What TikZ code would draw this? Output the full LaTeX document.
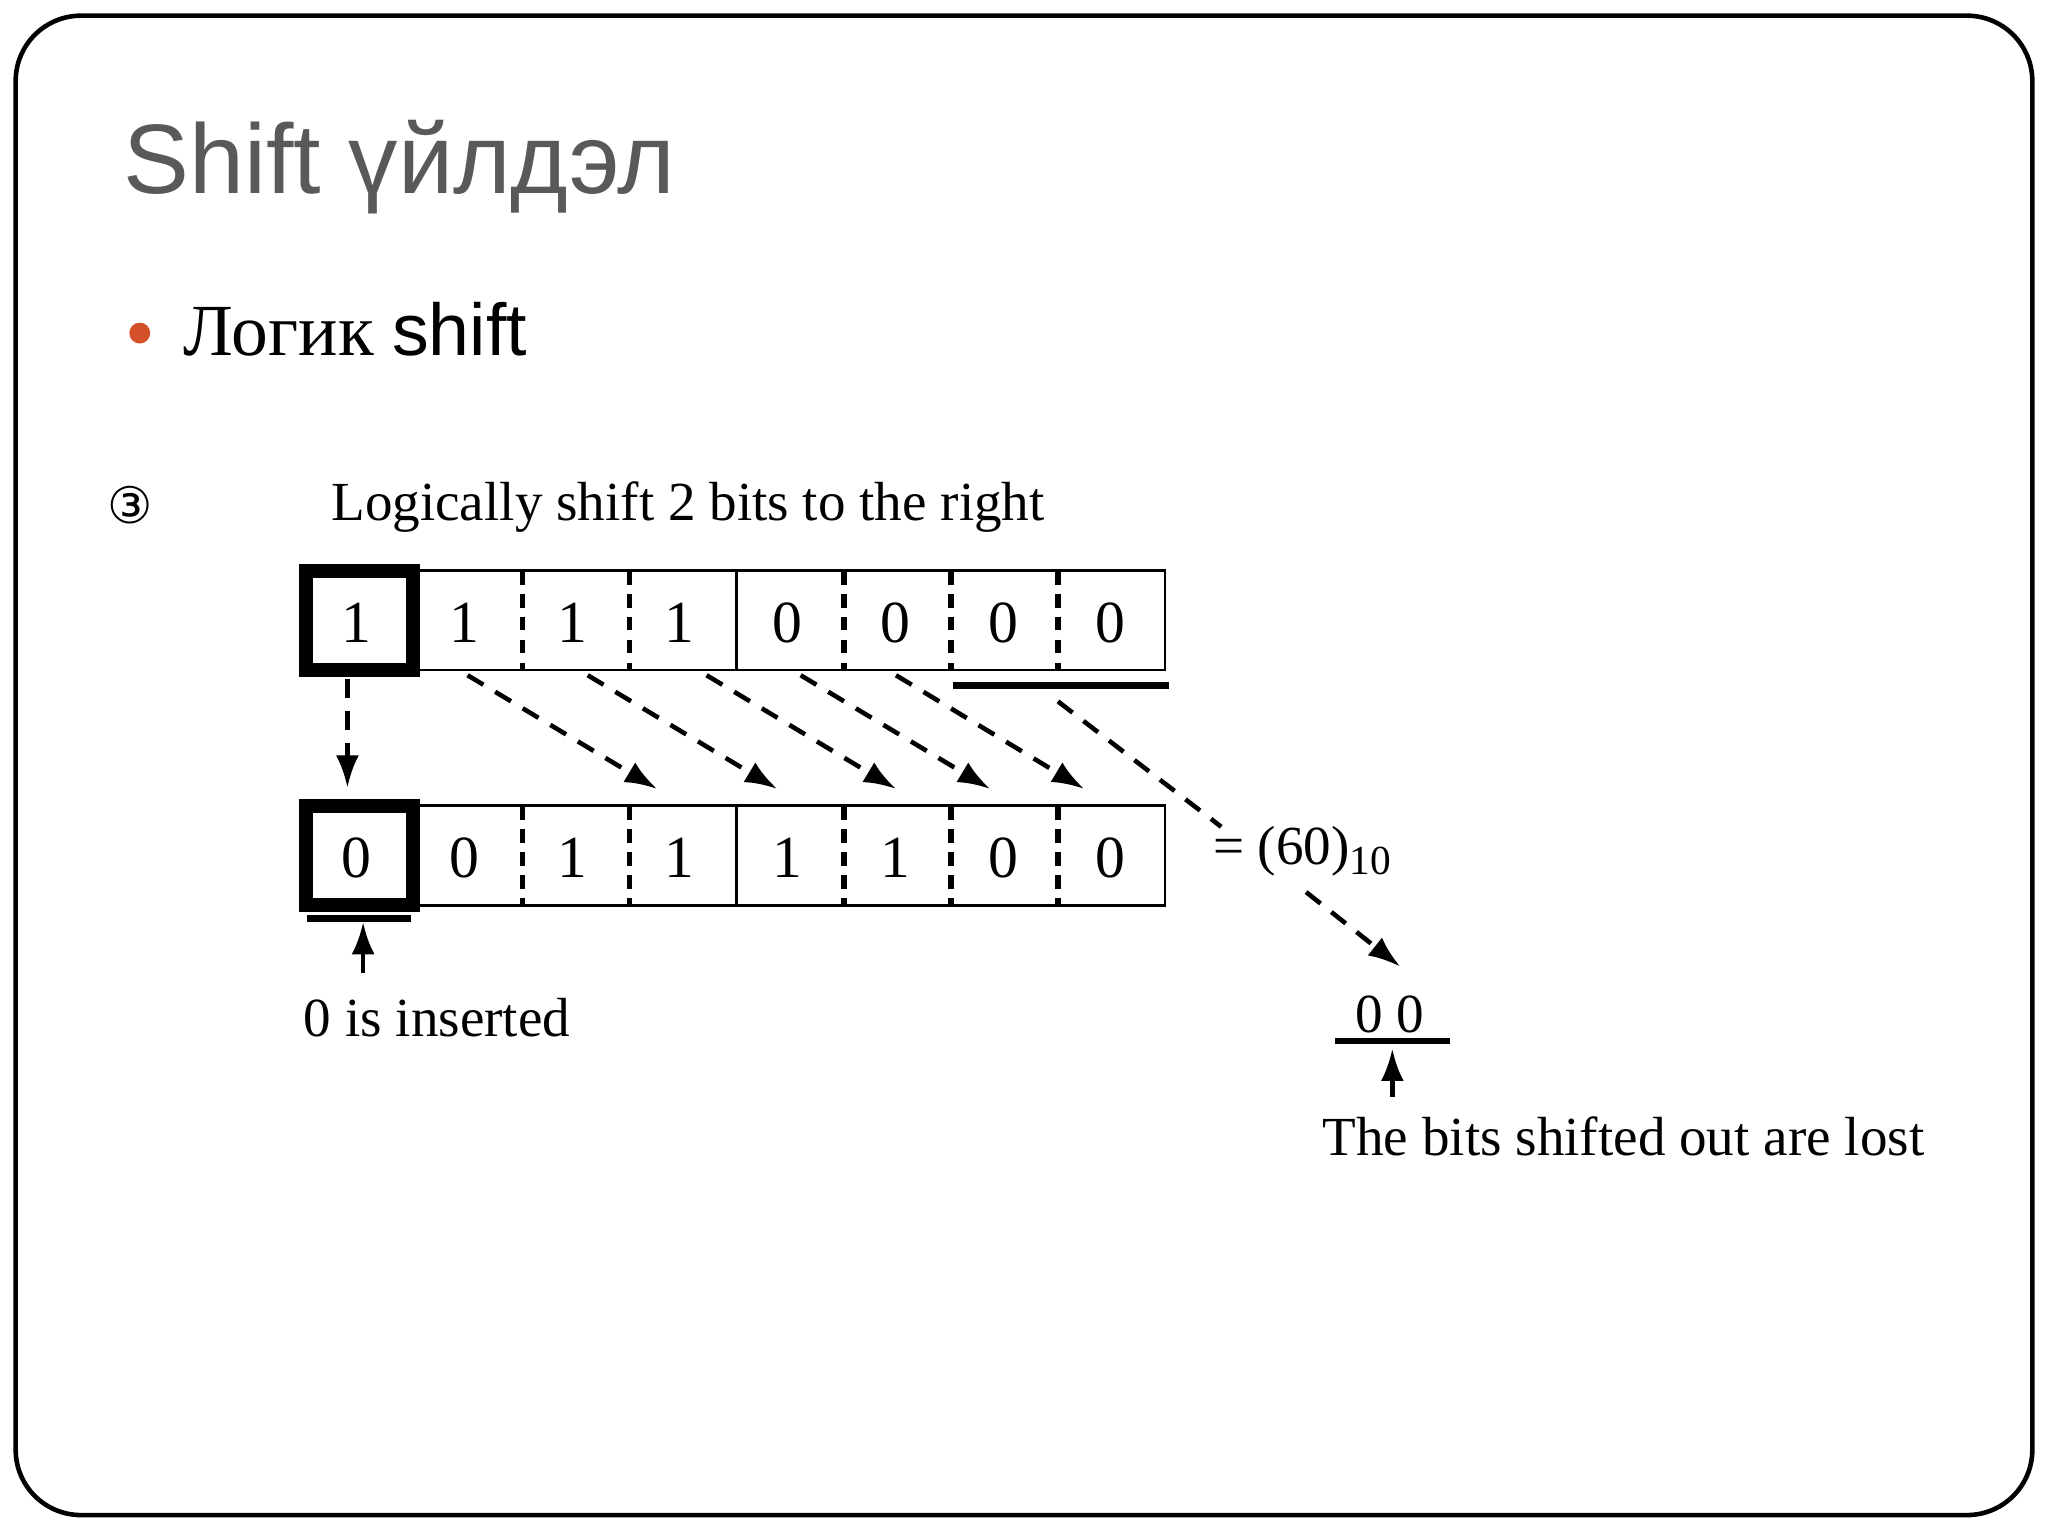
\documentclass[tikz,border=0pt]{standalone}
\usepackage{fontspec}
\setmainfont{Liberation Serif}
\newfontfamily\arialf{Liberation Sans}
\newfontfamily\djv{DejaVu Sans}
\usetikzlibrary{arrows.meta}
\definecolor{bul}{HTML}{D4502A}
\begin{document}
\begin{tikzpicture}[x=0.01cm,y=-0.01cm,
  cell/.style={draw,line width=0.6pt},
  dar/.style={line width=1pt,dash pattern=on 4pt off 3pt,-{Latex[length=7pt,width=5pt]}},
  dln/.style={line width=1pt,dash pattern=on 4pt off 3pt},
  sar/.style={line width=1pt,-{Latex[length=7pt,width=5pt]}},
  bit/.style={font=\fontsize{13}{15}\selectfont},
  lbl/.style={font=\fontsize{12}{14}\selectfont,inner sep=0pt}]
\useasboundingbox (0,0) rectangle (1568,1176);
\draw[line width=1pt,rounded corners=0.5cm] (12,12) rectangle (1556,1160);
\node[anchor=base west,inner sep=0pt,text=black!65,font=\arialf\fontsize{21.5}{24}\selectfont] (title) at (94,148) {Shift үйлдэл};
\fill[bul] (107,255) circle (8);
\node[anchor=base west,inner sep=0pt,font=\fontsize{16}{18}\selectfont] (sub) at (140,272) {Логик {\arialf shift}};
\node[inner sep=0pt,font=\djv\fontsize{11}{12}\selectfont] (num) at (100,387) {③};
\node[lbl,anchor=west] (cap) at (253,388) {Logically shift 2 bits to the right};
\foreach \r/\y/\bits in {t/437/{1,1,1,1,0,0,0,0}, b/617/{0,0,1,1,1,1,0,0}}{
  \draw[cell] (232,\y) rectangle (892,\y+76);
  \foreach \v [count=\i] in \bits {
    \node[bit] (\r\i) at ({232+82.5*(\i-1)+41},\y+40) {\v};
  }
  \foreach \xx in {400,482,646,728,810} \draw[line width=1.2pt,dash pattern=on 3pt off 2pt] (\xx,\y) -- (\xx,\y+76);
  \draw[line width=0.6pt] (564,\y) -- (564,\y+76);
  \draw[line width=3pt] (234,\y) rectangle (316,\y+76);
}
\draw[line width=1.6pt] (730,525) -- (895,525);
\draw[line width=1.6pt] (235,703) -- (315,703);
\coordinate (v0) at (266,520); \coordinate (v1) at (266,603);
\draw[dar] (v0) -- (v1);
\foreach \a/\b in {358/503,450/595,541/686,613/758,686/830}{
  \draw[dar] (\a,517) -- (\b,604);
}
\node[lbl,anchor=west] (eq) at (928,652) {= (60)\raisebox{-0.4ex}{\fontsize{9}{10}\selectfont 10}};
\coordinate (l0) at (810,537);
\draw[dln] (l0) -- (935,633);
\coordinate (l1) at (1000,683);\coordinate (l2) at (1072,740);
\draw[dar] (l1) -- (l2);
\node[lbl] (oo) at (1064,777) {0 0};
\draw[line width=1.3pt] (1022,797) -- (1110,797);
\coordinate (u0) at (1066,840);\coordinate (u1) at (1066,803);
\draw[sar] (u0) -- (u1);
\node[lbl,anchor=west] (lost) at (1012,870) {The bits shifted out are lost};
\coordinate (i0) at (278,745);\coordinate (i1) at (278,706);
\draw[sar] (i0) -- (i1);
\node[lbl,anchor=west] (ins) at (232,779) {0 is inserted};
\end{tikzpicture}
\end{document}
